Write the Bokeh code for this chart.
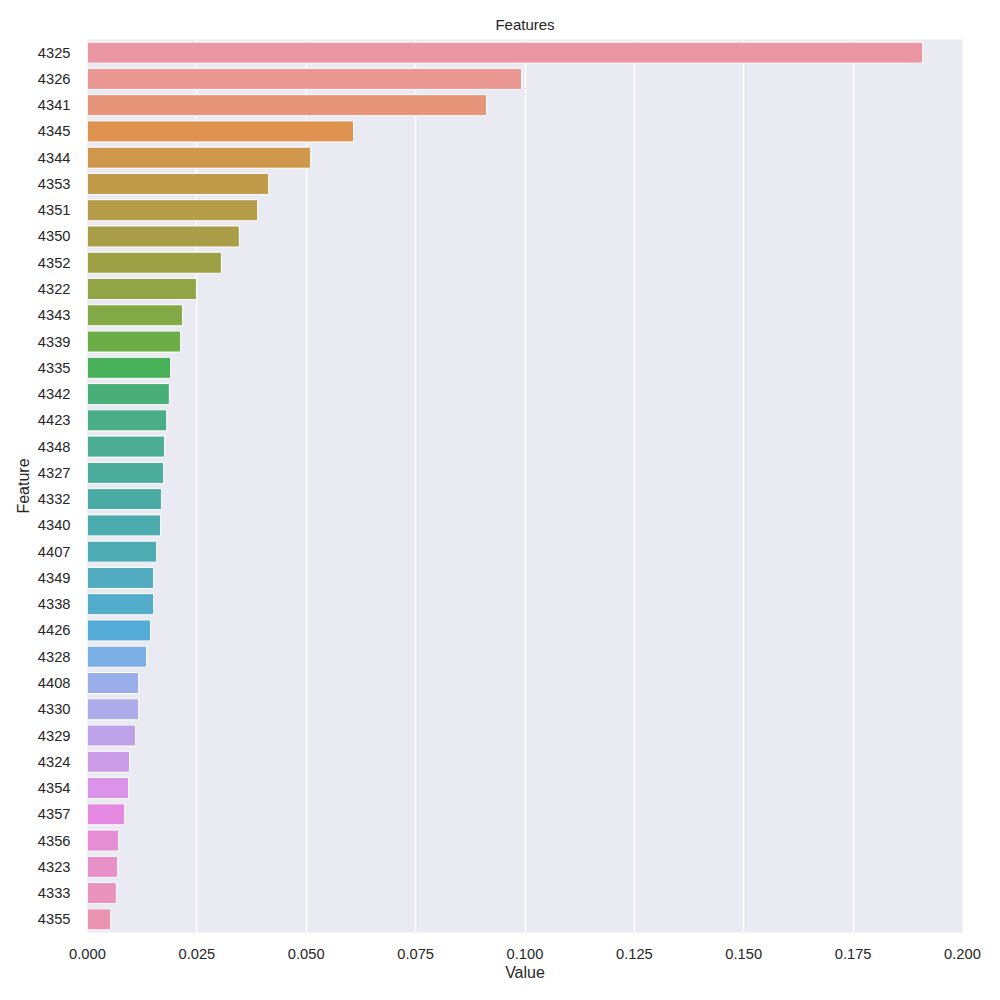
import math
import colorsys
from bokeh.plotting import figure
from bokeh.models import FactorRange, NumeralTickFormatter, ColumnDataSource, FixedTicker
from bokeh.embed import file_html
from bokeh.resources import INLINE

features = ["4325", "4326", "4341", "4345", "4344", "4353", "4351", "4350", "4352", "4322",
            "4343", "4339", "4335", "4342", "4423", "4348", "4327", "4332", "4340", "4407",
            "4349", "4338", "4426", "4328", "4408", "4330", "4329", "4324", "4354", "4357",
            "4356", "4323", "4333", "4355"]
values = [0.1909, 0.0992, 0.0912, 0.0608, 0.0510, 0.0414, 0.0389, 0.0347, 0.0306, 0.0249,
          0.0217, 0.0213, 0.0190, 0.0187, 0.0181, 0.0176, 0.0174, 0.0169, 0.0167, 0.0158,
          0.0151, 0.0151, 0.0144, 0.0135, 0.0117, 0.0117, 0.0110, 0.0096, 0.0094, 0.0085,
          0.0071, 0.0069, 0.0066, 0.0053]
x_ticks = [0.0, 0.025, 0.05, 0.075, 0.1, 0.125, 0.15, 0.175, 0.2]

# ---- HUSL palette (as seaborn's husl_palette) ----
M = [[3.2406, -1.5372, -0.4986], [-0.9689, 1.8758, 0.0415], [0.0557, -0.2040, 1.0570]]
refU, refV = 0.19784, 0.46834


def max_chroma(L, H):
    hrad = math.radians(H)
    sinH, cosH = math.sin(hrad), math.cos(hrad)
    sub1 = ((L + 16) ** 3) / 1560896.0
    sub2 = sub1 if sub1 > 0.008856 else (L / 903.3)
    result = float("inf")
    for m1, m2, m3 in M:
        top = (0.99915 * m1 + 1.05122 * m2 + 1.14460 * m3) * sub2
        rbottom = 0.86330 * m3 - 0.17266 * m2
        lbottom = 0.12949 * m3 - 0.38848 * m1
        bottom = (rbottom * sinH + lbottom * cosH) * sub2
        for t in (0.0, 1.0):
            C = L * (top - 1.05122 * t) / (bottom + 0.17266 * sinH * t)
            if 0.0 < C < result:
                result = C
    return result


def husl_to_rgb(H, S, L):
    C = max_chroma(L, H) / 100.0 * S
    U = math.cos(math.radians(H)) * C
    V = math.sin(math.radians(H)) * C
    t = (L + 16) / 116.0
    varY = t ** 3 if t ** 3 > 0.008856 else (116 * t - 16) / 903.3
    varU = U / (13 * L) + refU
    varV = V / (13 * L) + refV
    Y = varY
    X = 0 - (9 * Y * varU) / ((varU - 4.0) * varV - varU * varV)
    Z = (9.0 * Y - (15.0 * varV * Y) - (varV * X)) / (3.0 * varV)
    out = []
    for row in M:
        c = row[0] * X + row[1] * Y + row[2] * Z
        if c <= 0.0031308:
            c = 12.92 * c
        else:
            c = 1.055 * c ** (1 / 2.4) - 0.055
        out.append(min(max(c, 0.0), 1.0))
    return out


n = len(features)
colors = []
for i in range(n):
    h = ((i / n) + 0.01) % 1 * 359
    r, g, b = husl_to_rgb(h, 0.9 * 99, 0.7 * 99)
    hh, ll, ss = colorsys.rgb_to_hls(r, g, b)
    r, g, b = colorsys.hls_to_rgb(hh, ll, ss * 0.75)
    colors.append("#%02x%02x%02x" % tuple(int(round(c * 255)) for c in (r, g, b)))

source = ColumnDataSource(dict(feature=features, value=values, color=colors))

p = figure(
    y_range=FactorRange(factors=list(reversed(features)), range_padding=0),
    x_range=(0, 0.2),
    frame_width=875, frame_height=893,
    min_border_left=87, min_border_right=38, min_border_top=39, min_border_bottom=68,
    output_backend="svg", toolbar_location=None, title="Features",
)

p.hbar(y="feature", right="value", left=0, height=0.8, fill_color="color",
       line_color="white", line_width=1, source=source)

p.background_fill_color = "#EAEAF2"
p.border_fill_color = "white"
p.outline_line_color = None

p.title.align = "center"
p.title.text_font = "Liberation Sans"
p.title.text_font_size = "15px"
p.title.text_font_style = "normal"
p.title.text_color = "#262626"
p.title.standoff = 13

p.xaxis.ticker = FixedTicker(ticks=x_ticks)
p.xaxis.formatter = NumeralTickFormatter(format="0.000")
p.xaxis.axis_label = "Value"
p.yaxis.axis_label = "Feature"

for ax in (p.xaxis, p.yaxis):
    ax.axis_line_color = None
    ax.major_tick_line_color = None
    ax.minor_tick_line_color = None
    ax.major_label_text_font = "Liberation Sans"
    ax.major_label_text_font_size = "14.7px"
    ax.major_label_text_color = "#262626"
    ax.axis_label_text_font = "Liberation Sans"
    ax.axis_label_text_font_size = "16px"
    ax.axis_label_text_font_style = "normal"
    ax.axis_label_text_color = "#262626"

p.xaxis.major_label_standoff = 10
p.yaxis.major_label_standoff = 11
p.xaxis.axis_label_standoff = 2
p.yaxis.axis_label_standoff = 3

p.xgrid.grid_line_color = "white"
p.xgrid.grid_line_width = 1.4
p.ygrid.grid_line_color = None

open("out.html", "w").write(file_html(p, INLINE))
